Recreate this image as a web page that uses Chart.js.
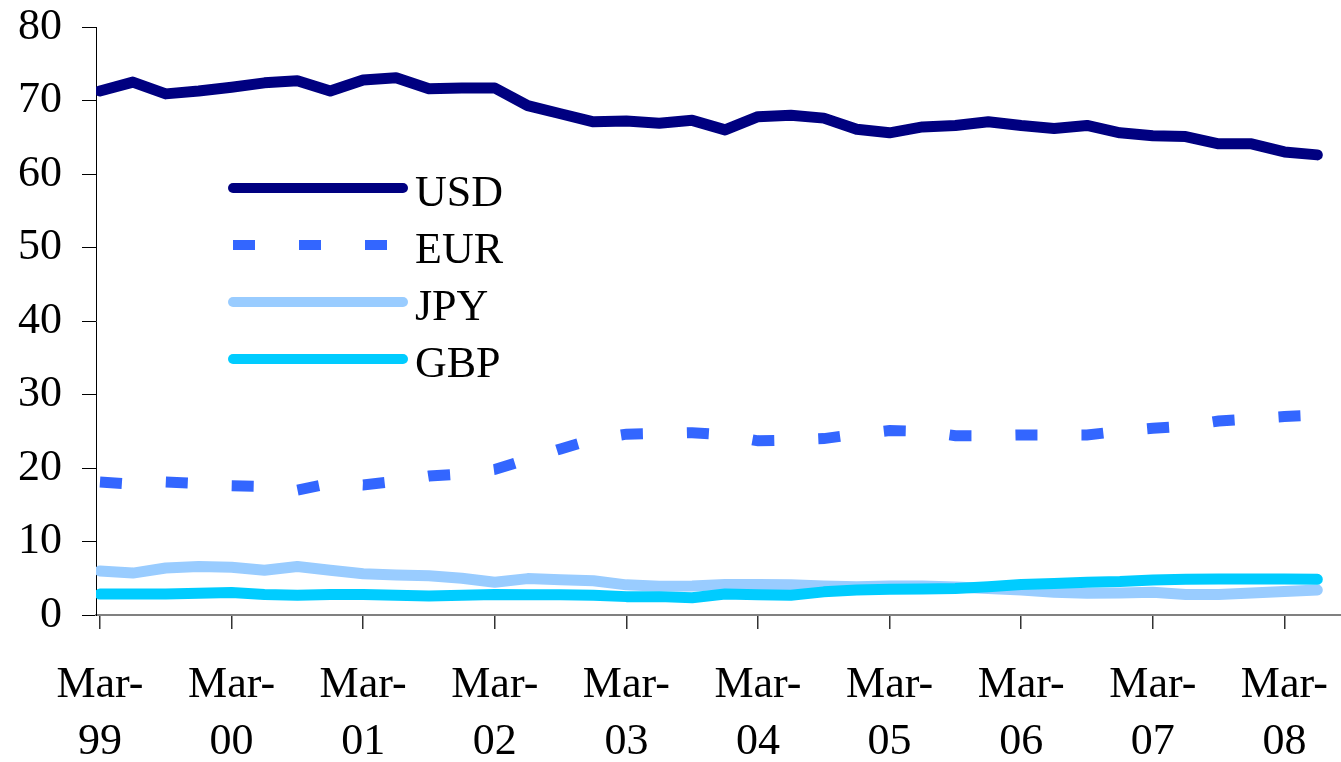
<!DOCTYPE html>
<html><head><meta charset="utf-8">
<script src="https://cdn.jsdelivr.net/npm/chart.js@4.4.1/dist/chart.umd.min.js"></script>
<style>
html,body{margin:0;padding:0;background:#fff;}
#wrap{position:relative;width:1341px;height:762px;}
#legend{position:absolute;left:0;top:0;}
.row{position:absolute;left:0;height:57px;width:600px;}
.row canvas{position:absolute;left:228px;top:14.7px;}
.row span{position:absolute;left:415px;top:0;font:44px/57px 'Liberation Serif','Times New Roman',serif;color:#000;white-space:nowrap;}
</style></head><body>
<div id="wrap"><canvas id="c" width="1341" height="762"></canvas><div id="legend"></div></div>
<script>
const categories = [
 'Mar-99','Jun-99','Sep-99','Dec-99','Mar-00','Jun-00','Sep-00','Dec-00',
 'Mar-01','Jun-01','Sep-01','Dec-01','Mar-02','Jun-02','Sep-02','Dec-02',
 'Mar-03','Jun-03','Sep-03','Dec-03','Mar-04','Jun-04','Sep-04','Dec-04',
 'Mar-05','Jun-05','Sep-05','Dec-05','Mar-06','Jun-06','Sep-06','Dec-06',
 'Mar-07','Jun-07','Sep-07','Dec-07','Mar-08','Jun-08'];
const tickIndex = [0,4,8,12,16,20,24,28,32,36];
const yTicks = [0,10,20,30,40,50,60,70,80];

const seriesNames = ['USD','EUR','JPY','GBP'];
const usd = [71.3,72.5,70.9,71.3,71.8,72.4,72.7,71.3,72.8,73.1,71.6,71.7,71.7,69.3,68.2,67.1,67.2,66.9,67.3,66.0,67.8,68.0,67.6,66.1,65.6,66.4,66.6,67.1,66.6,66.2,66.6,65.6,65.2,65.1,64.1,64.1,63.0,62.6];
const eur = [18.1,17.8,18.1,17.9,17.6,17.5,17.0,17.9,17.7,18.2,18.9,19.2,19.8,21.2,22.6,23.9,24.6,24.7,24.8,24.5,23.7,23.8,24.0,24.6,25.1,25.0,24.4,24.4,24.5,24.5,24.5,25.0,25.4,25.7,26.4,26.7,27.0,27.2];
const jpy = [6.0,5.7,6.4,6.6,6.5,6.1,6.6,6.1,5.6,5.45,5.35,5.0,4.45,4.95,4.8,4.65,4.1,3.9,3.95,4.15,4.15,4.1,3.95,3.85,3.95,3.95,3.8,3.6,3.4,3.1,2.95,3.0,3.1,2.8,2.8,3.0,3.2,3.4];
const gbp = [2.85,2.85,2.85,2.95,3.05,2.8,2.7,2.8,2.8,2.7,2.6,2.7,2.8,2.75,2.75,2.7,2.5,2.5,2.35,2.85,2.75,2.7,3.15,3.4,3.5,3.55,3.6,3.85,4.15,4.3,4.45,4.55,4.75,4.85,4.9,4.9,4.9,4.85];

const seriesValues = [usd, eur, jpy, gbp];
const seriesColors = ['#000080','#3366FF','#99CCFF','#00CCFF'];
const seriesDash = [[],[22,44],[],[]];

const serif = "'Liberation Serif','Times New Roman',serif";

const datasets = seriesNames.map((name, k) => ({
  label: name,
  data: seriesValues[k].map((v, i) => ({x: i, y: v})),
  borderColor: seriesColors[k],
  backgroundColor: seriesColors[k],
  borderWidth: 11,
  borderDash: seriesDash[k],
  borderCapStyle: seriesDash[k].length ? 'butt' : 'round',
  borderJoinStyle: seriesDash[k].length ? 'miter' : 'round',
  pointRadius: 0,
  tension: 0,
  fill: false,
  order: 3 - k
}));

new Chart(document.getElementById('c'), {
  type: 'line',
  data: {datasets},
  options: {
    responsive: false,
    animation: false,
    devicePixelRatio: 1,
    layout: {padding: {top: 27, left: 0, right: 0, bottom: 0}},
    plugins: {legend: {display: false}, tooltip: {enabled: false}},
    scales: {
      x: {
        type: 'linear',
        min: -0.12,
        max: 37.72,
        afterBuildTicks: s => { s.ticks = tickIndex.map(v => ({value: v})); },
        afterFit: s => { s.height = 147; s.paddingLeft = 0; s.paddingRight = 0; },
        ticks: {
          autoSkip: false, maxRotation: 0, minRotation: 0, padding: 28, color: '#000',
          font: {family: serif, size: 44, lineHeight: 1.3},
          callback: v => { const l = categories[v]; return l ? [l.slice(0, 4), l.slice(4)] : ''; }
        },
        grid: {drawOnChartArea: false, drawTicks: true, tickLength: 14, color: '#333', lineWidth: 1.5},
        border: {color: '#808080', width: 2}
      },
      y: {
        min: 0, max: 80,
        afterBuildTicks: s => { s.ticks = yTicks.map(v => ({value: v})); },
        afterFit: s => { s.width = 96; s.paddingTop = 0; s.paddingBottom = 0; },
        ticks: {padding: 20, color: '#000', font: {family: serif, size: 44, lineHeight: 1.2}},
        grid: {drawOnChartArea: false, drawTicks: true, tickLength: 14, color: '#000', lineWidth: 1},
        border: {color: '#000', width: 1}
      }
    }
  }
});

// legend
const legend = document.getElementById('legend');
seriesNames.forEach((name, k) => {
  const row = document.createElement('div');
  row.className = 'row';
  row.style.top = (163 + 57 * k) + 'px';
  const cv = document.createElement('canvas');
  cv.width = 182; cv.height = 20;
  const g = cv.getContext('2d');
  g.strokeStyle = seriesColors[k];
  g.lineWidth = 10;
  g.setLineDash(seriesDash[k]);
  g.lineCap = seriesDash[k].length ? 'butt' : 'round';
  g.beginPath(); g.moveTo(5, 10); g.lineTo(175, 10); g.stroke();
  const sp = document.createElement('span');
  sp.textContent = name;
  row.appendChild(cv); row.appendChild(sp);
  legend.appendChild(row);
});
</script>
</body></html>
